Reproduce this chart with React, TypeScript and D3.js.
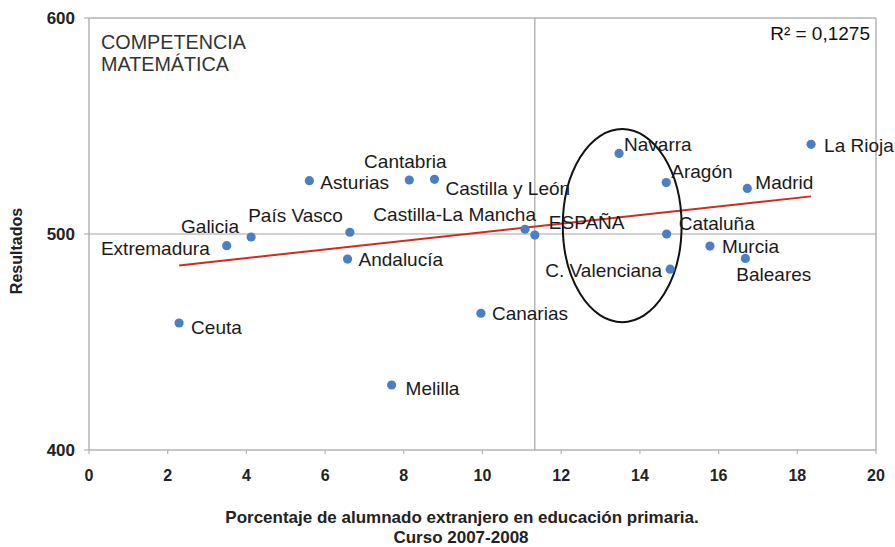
import React from "react";
import * as d3 from "d3";

// comunidades (porcentaje alumnado extranjero, resultado matemáticas)
const regions = [
  "Ceuta", "Extremadura", "Galicia", "Asturias", "Cantabria", "Castilla y León",
  "País Vasco", "Castilla-La Mancha", "ESPAÑA", "Andalucía", "Canarias", "Melilla",
  "Navarra", "Aragón", "Madrid", "La Rioja", "Cataluña", "Murcia", "Baleares", "C. Valenciana",
];
const foreignPct = [
  2.29, 3.5, 4.12, 5.6, 8.14, 8.78,
  6.63, 11.08, 11.33, 6.57, 9.96, 7.69,
  13.47, 14.67, 16.73, 18.35, 14.68, 15.78, 16.68, 14.77,
];
const scores = [
  458.8, 494.6, 498.6, 524.7, 525, 525.3,
  500.8, 502.2, 499.5, 488.4, 463.3, 430.1,
  537.3, 523.8, 521.1, 541.5, 500, 494.4, 488.7, 483.7,
];

const xTicks = [0, 2, 4, 6, 8, 10, 12, 14, 16, 18, 20];
const yTicks = [400, 500, 600];

// reference lines (media de España)
const spainX = 11.33;
const spainY = 500;

// linea de tendencia
const trendSlope = 1.99;
const trendIntercept = 480.9;
const rSquared = "R² = 0,1275";

// elipse destacada
const ellipseCenter = [13.55, 503.9];
const ellipseRadius = [1.51, 44.7];

// label placement around each dot
const labelPos: Record<string, [number, number, string]> = {
  "Ceuta": [12, 11, "start"],
  "Extremadura": [-17, 9, "end"],
  "Galicia": [-12, -4, "end"],
  "Asturias": [11, 8, "start"],
  "Cantabria": [-4, -12, "middle"],
  "Castilla y León": [11, 16, "start"],
  "País Vasco": [-7, -10, "end"],
  "Castilla-La Mancha": [11, -8, "end"],
  "ESPAÑA": [14, -6, "start"],
  "Andalucía": [11, 7, "start"],
  "Canarias": [11, 7, "start"],
  "Melilla": [14, 10, "start"],
  "Navarra": [5, -2, "start"],
  "Aragón": [5, -5, "start"],
  "Madrid": [8, 1, "start"],
  "La Rioja": [13, 8, "start"],
  "Cataluña": [12, -4, "start"],
  "Murcia": [12, 7, "start"],
  "Baleares": [-9, 23, "start"],
  "C. Valenciana": [-8, 8, "end"],
};

const W = 895;
const H = 547;
const left = 89;
const right = 876;
const top = 18;
const bottom = 450;

export default function App() {
  const x = d3.scaleLinear().domain([0, 20]).range([left, right]);
  const y = d3.scaleLinear().domain([400, 600]).range([bottom, top]);

  const [xMin, xMax] = d3.extent(foreignPct) as [number, number];
  const trend = d3.line<number>()
    .x((d) => x(d))
    .y((d) => y(trendIntercept + trendSlope * d));

  const axisColor = "#b3b3b3";
  const labelFont = "'Liberation Sans', Arial, Helvetica, sans-serif";

  return (
    <svg
      width={W}
      height={H}
      style={{ position: "absolute", left: 0, top: 0, background: "#fff" }}
      fontFamily={labelFont}
    >
      {/* frame */}
      <line x1={left} x2={right} y1={top} y2={top} stroke={axisColor} strokeWidth={1.5} />
      <line x1={right} x2={right} y1={top} y2={bottom} stroke={axisColor} strokeWidth={1.5} />
      <line x1={left} x2={left} y1={top} y2={bottom} stroke={axisColor} strokeWidth={1.5} />
      <line x1={left} x2={right} y1={bottom} y2={bottom} stroke={axisColor} strokeWidth={1.5} />

      {/* crosshair */}
      <line x1={x(spainX)} x2={x(spainX)} y1={top} y2={bottom} stroke="#a6a6a6" strokeWidth={1.2} />
      <line x1={left} x2={right} y1={y(spainY)} y2={y(spainY)} stroke="#a6a6a6" strokeWidth={1.2} />

      {/* x axis */}
      {xTicks.map((t) => (
        <g key={"x" + t}>
          <line x1={x(t)} x2={x(t)} y1={bottom} y2={bottom + 4} stroke={axisColor} strokeWidth={1.2} />
          <text x={x(t)} y={481} textAnchor="middle" fontSize={16} fontWeight="bold" fill="#222">
            {t}
          </text>
        </g>
      ))}

      {/* y axis */}
      {yTicks.map((t) => (
        <g key={"y" + t}>
          <line x1={left - 5} x2={left} y1={y(t)} y2={y(t)} stroke={axisColor} strokeWidth={1.2} />
          <text x={75} y={y(t) + 6} textAnchor="end" fontSize={17} fontWeight="bold" fill="#222">
            {t}
          </text>
        </g>
      ))}

      <text
        transform={`translate(22,251) rotate(-90)`}
        textAnchor="middle"
        fontSize={16}
        fontWeight="bold"
        fill="#222"
      >
        Resultados
      </text>

      <text x={462} y={523} textAnchor="middle" fontSize={17} fontWeight="bold" fill="#222">
        Porcentaje de alumnado extranjero en educación primaria.
      </text>
      <text x={461} y={543} textAnchor="middle" fontSize={17} fontWeight="bold" fill="#222">
        Curso 2007-2008
      </text>

      {/* title inside plot */}
      <text
        x={101}
        y={49}
        fontSize={20}
        fill="#333"
        textLength={145}
        lengthAdjust="spacingAndGlyphs"
      >
        COMPETENCIA
      </text>
      <text
        x={101}
        y={71}
        fontSize={20}
        fill="#333"
        textLength={128}
        lengthAdjust="spacingAndGlyphs"
      >
        MATEMÁTICA
      </text>

      <text x={870} y={40} textAnchor="end" fontSize={19} fill="#111">
        {rSquared}
      </text>

      {/* trend */}
      <path d={trend([xMin, xMax]) || ""} fill="none" stroke="#d02b20" strokeWidth={2} />

      {/* ellipse */}
      <ellipse
        cx={x(ellipseCenter[0])}
        cy={y(ellipseCenter[1])}
        rx={x(ellipseCenter[0] + ellipseRadius[0]) - x(ellipseCenter[0])}
        ry={y(ellipseCenter[1] - ellipseRadius[1]) - y(ellipseCenter[1])}
        fill="none"
        stroke="#111"
        strokeWidth={2}
      />

      {/* points */}
      {regions.map((name, i) => {
        const [dx, dy, anchor] = labelPos[name];
        const px = x(foreignPct[i]);
        const py = y(scores[i]);
        return (
          <g key={name}>
            <circle cx={px} cy={py} r={4.6} fill="#4a7fc4" />
            <text x={px + dx} y={py + dy} textAnchor={anchor} fontSize={19} fill="#1a1a1a">
              {name}
            </text>
          </g>
        );
      })}
    </svg>
  );
}
